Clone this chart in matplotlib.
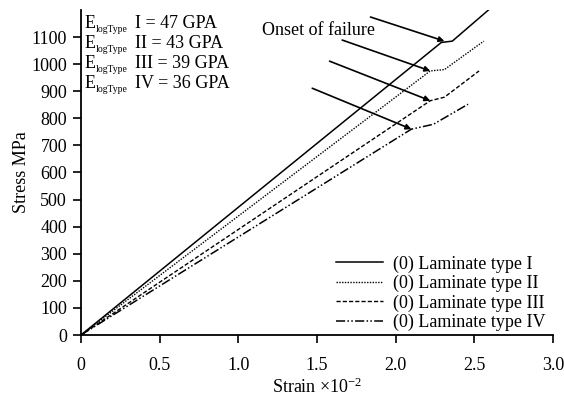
import matplotlib
matplotlib.use("Agg")
import matplotlib.pyplot as plt
from matplotlib.transforms import offset_copy

plt.rcParams['font.family'] = ['Liberation Serif', 'DejaVu Serif']
plt.rcParams['mathtext.fontset'] = 'custom'
plt.rcParams['mathtext.rm'] = 'Liberation Serif'
plt.rcParams['mathtext.it'] = 'Liberation Serif:italic'

# stress-strain curves (strain x10^-2, stress MPa)
strain_I = [0, 2.29, 2.36, 2.60]
stress_I = [0, 1080, 1085, 1205]
strain_II = [0, 2.22, 2.31, 2.56]
stress_II = [0, 975, 980, 1085]
strain_III = [0, 2.22, 2.31, 2.53]
stress_III = [0, 865, 878, 975]
strain_IV = [0, 2.10, 2.24, 2.46]
stress_IV = [0, 760, 778, 852]

labels = ['(0) Laminate type I', '(0) Laminate type II',
          '(0) Laminate type III', '(0) Laminate type IV']
moduli = ['I = 47 GPA', 'II = 43 GPA', 'III = 39 GPA', 'IV = 36 GPA']

# arrows: tail -> head (onset of failure)
arrow_tails = [(1.84, 1174), (1.66, 1089), (1.58, 1011), (1.47, 911)]
arrow_heads = [(2.31, 1085), (2.22, 975), (2.22, 865), (2.10, 760)]

fig = plt.figure(figsize=(5.64, 3.99), dpi=100)
ax = fig.add_axes([0.1436, 0.1604, 0.8369, 0.8146])

ax.plot(strain_I, stress_I, color='black', lw=1.1, ls='-', label=labels[0])
ax.plot(strain_II, stress_II, color='black', lw=1.0, ls=(0, (1, 1)), label=labels[1])
ax.plot(strain_III, stress_III, color='black', lw=1.0, ls=(0, (3, 1.5)), label=labels[2])
ax.plot(strain_IV, stress_IV, color='black', lw=1.1,
        ls=(0, (6, 1.5, 1, 1.5, 1, 1.5)), label=labels[3])

for tail, head in zip(arrow_tails, arrow_heads):
    ax.annotate('', xy=head, xytext=tail,
                arrowprops=dict(arrowstyle='-|>', color='black', lw=1.2,
                                mutation_scale=8, shrinkA=0, shrinkB=0))

ax.text(1.15, 1126, 'Onset of failure', fontsize=13, ha='left', va='center')

# modulus labels: "E" + small subscript + value
e_rows = [1133, 1059, 985, 911]
sub_tr = offset_copy(ax.transData, fig=fig, x=8, y=-2.5, units='points')
val_tr = offset_copy(ax.transData, fig=fig, x=36, y=0, units='points')
for y, m in zip(e_rows, moduli):
    ax.text(0.025, y, 'E', fontsize=13, ha='left', va='baseline')
    ax.text(0.025, y, 'logType', fontsize=7, ha='left', va='baseline',
            transform=sub_tr)
    ax.text(0.025, y, m, fontsize=13, ha='left', va='baseline',
            transform=val_tr)

ax.set_xlim(0, 3.0)
ax.set_ylim(0, 1200)
ax.set_xticks([0, 0.5, 1.0, 1.5, 2.0, 2.5, 3.0])
ax.set_xticklabels(['0', '0.5', '1.0', '1.5', '2.0', '2.5', '3.0'])
ax.set_yticks(range(0, 1101, 100))
ax.tick_params(direction='out', length=5.5, width=1.2, labelsize=13)
ax.tick_params(axis='x', pad=10)
ax.tick_params(axis='y', pad=4.5)

for s in ['top', 'right']:
    ax.spines[s].set_visible(False)
for s in ['left', 'bottom']:
    ax.spines[s].set_linewidth(1.3)

ax.set_xlabel(r'Strain $\times$10$^{-2}$', fontsize=13, labelpad=3)
ax.set_ylabel('Stress MPa', fontsize=13, labelpad=1)

ax.legend(loc='lower right', bbox_to_anchor=(1.0, -0.01), frameon=False,
          fontsize=13, handlelength=2.6, labelspacing=0.12, handletextpad=0.55,
          borderaxespad=0.0)

plt.savefig('out.png', dpi=100, facecolor='white')
